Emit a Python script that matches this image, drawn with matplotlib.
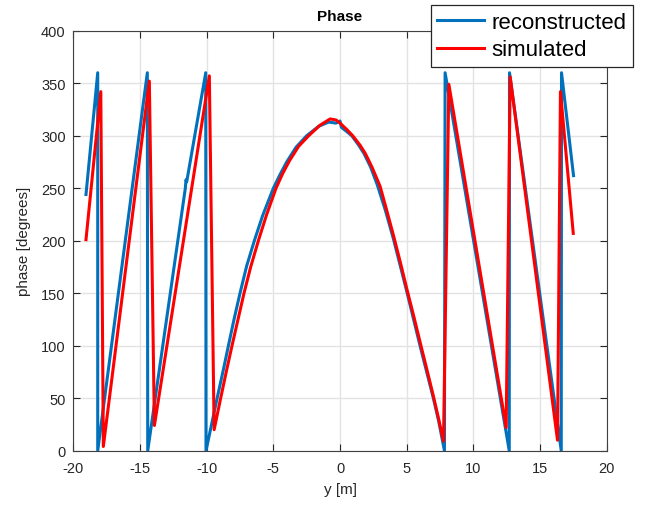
import matplotlib.pyplot as plt

plt.rcParams['font.family'] = ['Liberation Sans', 'DejaVu Sans']
plt.rcParams['axes.unicode_minus'] = False

# reconstructed phase (blue)
rec_y = [-19.05, -18.7, -18.17, -18.17, -14.45, -14.42, -11.6, -11.55, -11.5, -10.07, -10.05,
         -9.55, -9.13, -8.7, -8.37, -7.95, -7.5, -7.0, -6.4, -5.8, -5.0, -4.5, -4.0, -3.3,
         -2.5, -1.6, -0.85, -0.3, 0.0, 0.1, 0.5, 0.88, 1.4, 1.8, 2.3, 2.8, 3.4, 4.0,
         4.5, 5.0, 5.5, 6.0, 6.5, 7.0, 7.4, 7.83, 7.88, 12.69, 12.71, 16.59, 16.61, 17.51]
rec_phase = [244, 290, 360, 0, 360, 0, 250, 258, 256, 360, 0,
             30, 55, 80, 100, 125, 150, 176, 201, 224, 250, 263, 275, 289,
             300, 309, 313, 312, 314, 308, 304, 300, 291, 283, 270, 253, 229, 202,
             177, 152, 126, 100, 75, 50, 28, 0, 360, 0, 360, 0, 360, 262]

# simulated phase (red)
sim_y = [-19.05, -17.94, -17.75, -14.30, -13.92, -9.80, -9.44,
         -9.0, -8.55, -8.1, -7.65, -7.2, -6.7, -6.1, -5.5, -4.8, -4.3, -3.8,
         -3.1, -2.35, -1.5, -0.74, -0.3, 0.0, 0.5, 0.95, 1.5, 1.9, 2.4, 3.0, 3.5,
         4.05, 4.55, 5.05, 5.55, 6.05, 6.5, 7.0, 7.4, 7.76, 8.16, 12.46, 12.76,
         16.31, 16.53, 17.49]
sim_phase = [201, 342, 4, 352, 24, 357, 20,
             47, 74, 100, 125, 150, 175, 201, 225, 250, 264, 276,
             290, 300, 310, 316, 315, 312, 306, 300, 291, 283, 270, 252, 229,
             203, 178, 152, 127, 101, 78, 52, 30, 9, 349, 22, 356,
             10, 342, 207]

fig = plt.figure(figsize=(6.46, 5.06), dpi=100)
ax = fig.add_axes([0.1135, 0.1073, 0.8257, 0.830])

ax.plot(rec_y, rec_phase, color='#0072BD', lw=2.2, label='reconstructed')
ax.plot(sim_y, sim_phase, color='#FF0000', lw=2.2, label='simulated')

ax.set_xlim(-20, 20)
ax.set_ylim(0, 400)
ax.set_xticks(range(-20, 21, 5))
ax.set_yticks(range(0, 401, 50))
ax.grid(True, color='#e3e3e3', lw=1)
ax.set_axisbelow(True)
ax.tick_params(direction='in', top=True, right=True, length=5, width=0.8,
               colors='#262626', labelsize=10.5, labelcolor='#262626')
ax.tick_params(axis='x', pad=7.5)
ax.tick_params(axis='y', pad=5.5)
for s in ax.spines.values():
    s.set_color('#404040')
    s.set_linewidth(0.8)

ax.set_title('Phase', fontsize=11, fontweight='bold', pad=8)
ax.set_xlabel('y [m]', fontsize=11, color='#262626', labelpad=5)
ax.set_ylabel('phase [degrees]', fontsize=11, color='#262626', labelpad=7)

leg = ax.legend(loc='upper right', bbox_to_anchor=(633.3 / 646, 1 - 6 / 506),
                bbox_transform=fig.transFigure, borderaxespad=0, fontsize=16,
                fancybox=False, framealpha=1, edgecolor='#262626',
                handlelength=2.1, handletextpad=0.35, labelspacing=0.3,
                borderpad=0.3)
leg.get_frame().set_linewidth(0.9)
for l in leg.get_lines():
    l.set_linewidth(2.2)

fig.savefig('out.png', dpi=100)
